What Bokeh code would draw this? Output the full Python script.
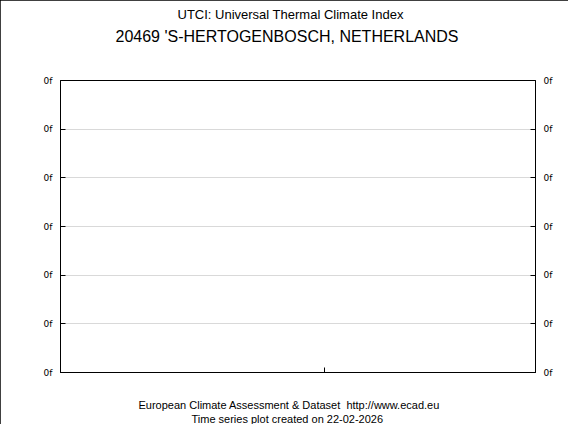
from bokeh.plotting import figure
from bokeh.models import Range1d, LinearAxis, FixedTicker, Title
from bokeh.embed import file_html
from bokeh.resources import INLINE

# ---- data ----
title_line1 = "UTCI: Universal Thermal Climate Index"
title_line2 = "20469 'S-HERTOGENBOSCH, NETHERLANDS"
footer_line1 = "European Climate Assessment & Dataset\u00a0 http://www.ecad.eu"
footer_line2 = "Time series plot created on 22-02-2026"
y_ticks = [0, 1, 2, 3, 4, 5, 6]
y_tick_labels = ["0f", "0f", "0f", "0f", "0f", "0f", "0f"]
x_ticks = [0.556]
x_tick_labels = [""]

W, H = 568, 424
FL, FR = 60, W - 535
p = figure(width=W, height=H, output_backend="svg", toolbar_location=None,
           x_range=Range1d(0, 1), y_range=Range1d(0, 6),
           min_border_left=FL, min_border_right=FR, min_border_top=0, min_border_bottom=0)
p.styles = {"outline": "1px solid black", "outline-offset": "-1px"}
p.outline_line_color = "black"
p.outline_line_width = 1
p.background_fill_color = "white"
p.border_fill_color = "white"

label_font = "DejaVu Sans"

# x axis
p.xaxis.ticker = FixedTicker(ticks=x_ticks)
p.xaxis.major_label_overrides = {t: l for t, l in zip(x_ticks, x_tick_labels)}
p.xaxis.major_tick_in = 5
p.xaxis.major_tick_out = 0
p.xaxis.minor_tick_line_color = None
p.xaxis.axis_line_color = "black"
p.xaxis.major_tick_line_color = "black"
p.xgrid.grid_line_color = None

# left y axis
p.yaxis.ticker = FixedTicker(ticks=y_ticks)
p.yaxis.major_label_overrides = {t: l for t, l in zip(y_ticks, y_tick_labels)}
p.yaxis.major_tick_in = 5
p.yaxis.major_tick_out = 0
p.yaxis.minor_tick_line_color = None
p.yaxis.major_label_text_font = label_font
p.yaxis.major_label_text_font_size = "9px"
p.yaxis.major_label_text_color = "black"
p.yaxis.major_label_standoff = 8
p.yaxis.axis_line_color = "black"
p.yaxis.major_tick_line_color = "black"
p.ygrid.ticker = FixedTicker(ticks=y_ticks[1:-1])
p.ygrid.grid_line_color = "#d9d9d9"

# right y axis
ry = LinearAxis(ticker=FixedTicker(ticks=y_ticks))
ry.major_label_overrides = {t: l for t, l in zip(y_ticks, y_tick_labels)}
ry.major_tick_in = 5
ry.major_tick_out = 0
ry.minor_tick_line_color = None
ry.major_label_text_font = label_font
ry.major_label_text_font_size = "9px"
ry.major_label_text_color = "black"
ry.major_label_standoff = 8
ry.axis_line_color = "black"
ry.major_tick_line_color = "black"
p.add_layout(ry, "right")

txt_font = "Liberation Sans"


def mk(text, size, standoff, left):
    return Title(text=text, align="left", offset=left - FL, standoff=standoff,
                 text_font=txt_font, text_font_size=size, text_font_style="normal",
                 text_color="black")


# above: first added is nearest the frame
p.add_layout(mk(" ", "10px", 22, FL), "above")
p.add_layout(mk(title_line2, "16px", 1, 115), "above")
p.add_layout(mk(title_line1, "13px", 8, 177), "above")
# below
p.add_layout(mk(" ", "10px", 11, FL), "below")
p.add_layout(mk(footer_line1, "11px", 0, 138), "below")
p.add_layout(mk(footer_line2, "11px", 0, 191), "below")

open("out.html", "w").write(file_html(p, INLINE))
